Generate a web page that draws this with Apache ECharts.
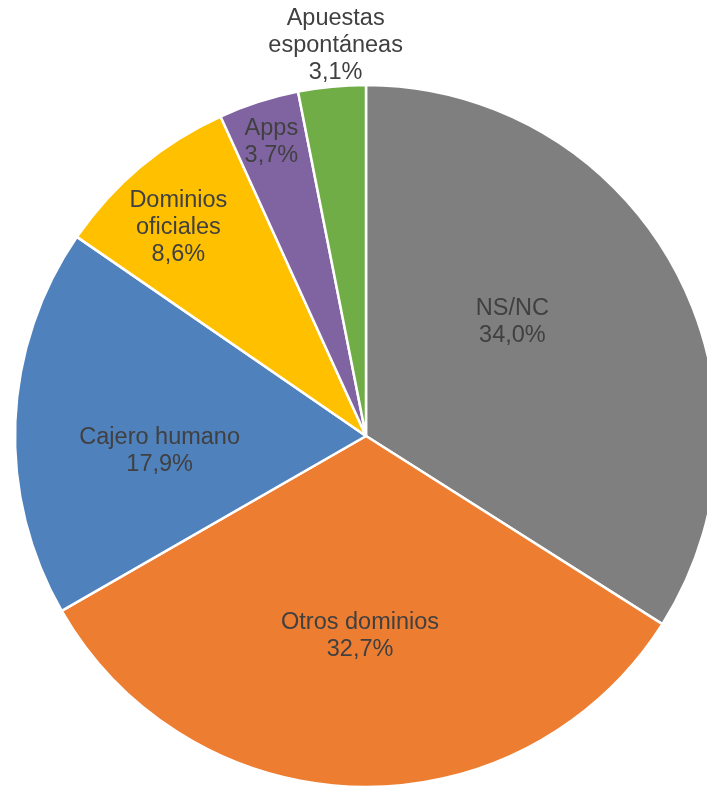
<!DOCTYPE html>
<html>
<head>
<meta charset="utf-8">
<script src="https://cdn.jsdelivr.net/npm/echarts@6/dist/echarts.min.js"></script>
<style>
html,body{margin:0;padding:0;background:#fff;}
#chart{width:707px;height:787px;}
</style>
</head>
<body>
<div id="chart"></div>
<script>
const categories = ["NS/NC", "Otros dominios", "Cajero humano", "Dominios oficiales", "Apps", "Apuestas espontáneas"];
const labelNames = ["NS/NC", "Otros dominios", "Cajero humano", "Dominios\noficiales", "Apps", "Apuestas\nespontáneas"];
const values = [34.0, 32.7, 17.9, 8.6, 3.7, 3.1];
const colors = ["#7f7f7f", "#ed7d31", "#4f81bd", "#ffc000", "#8064a2", "#70ad47"];
const labelShift = [[-10, -28], [-2, 22], [-28, 22], [-73, -72], [-40, -124], [-13, -213]];

const chart = echarts.init(document.getElementById('chart'), null, {renderer: 'canvas'});
chart.setOption({
  animation: false,
  series: [{
    type: 'pie',
    center: [366, 436],
    radius: [0, 351],
    startAngle: 90,
    clockwise: true,
    itemStyle: {borderColor: '#fff', borderWidth: 2.5},
    label: {
      position: 'inside',
      color: '#404040',
      fontFamily: 'Liberation Sans, Arial, sans-serif',
      fontSize: 23.5,
      lineHeight: 27,
      align: 'center',
      formatter: p => labelNames[p.dataIndex] + '\n' + p.value.toFixed(1).replace('.', ',') + '%'
    },
    labelLine: {show: false},
    labelLayout: p => ({dx: labelShift[p.dataIndex][0], dy: labelShift[p.dataIndex][1]}),
    emphasis: {disabled: true},
    data: categories.map((c, i) => ({name: c, value: values[i], itemStyle: {color: colors[i]}}))
  }]
});
</script>
</body>
</html>
